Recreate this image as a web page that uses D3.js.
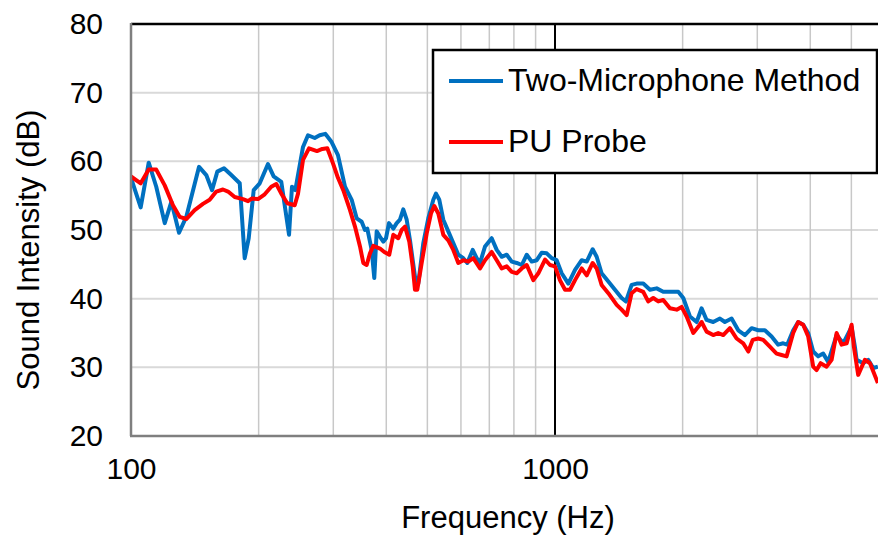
<!DOCTYPE html>
<html>
<head>
<meta charset="utf-8">
<script src="https://cdn.jsdelivr.net/npm/d3@7"></script>
<style>
  body { margin: 0; background: #fff; }
  svg { display: block; font-family: "Liberation Sans", Arial, sans-serif; }
</style>
</head>
<body>
<script>
// Two-Microphone Method (blue)
const blueFreq = [100, 105.4, 110.1, 114.7, 120.1, 124.5, 129.8, 135.0, 144.7, 150.5, 155.3, 159.8, 165.7, 172.4, 180.5, 185.4, 189.5, 194.7, 201.2, 210.4, 217.0, 226.2, 235.9, 239.7, 244.1, 254.5, 261.5, 271.2, 278.6, 287.2, 296.7, 307.7, 319.7, 331.5, 340.6, 350.0, 356.3, 360.8, 369.5, 374.8, 379.7, 386.6, 393.6, 399.4, 405.9, 415.5, 423.3, 430.9, 438.7, 446.9, 455.0, 467.5, 476.0, 489.1, 502.5, 516.4, 524.0, 533.5, 545.2, 560.2, 575.6, 591.5, 607.8, 621.1, 639.6, 653.6, 665.5, 683.8, 709.1, 728.7, 748.7, 769.4, 790.6, 812.3, 834.7, 857.7, 881.3, 905.6, 930.5, 956.1, 982.3, 1009, 1037, 1075, 1115, 1156, 1188, 1227, 1254, 1288, 1336, 1385, 1436, 1470, 1516, 1558, 1615, 1675, 1737, 1800, 1867, 1953, 2007, 2081, 2158, 2217, 2278, 2361, 2449, 2516, 2609, 2705, 2805, 2909, 3015, 3126, 3242, 3360, 3453, 3529, 3646, 3746, 3849, 3955, 4064, 4176, 4291, 4409, 4615, 4783, 5006, 5097, 5144, 5332, 5479, 5629, 5775];
const blueDb = [57.6, 53.3, 59.8, 56.3, 51.0, 54.1, 49.6, 51.9, 59.2, 58.0, 55.8, 58.5, 59.0, 58.0, 56.8, 45.9, 48.8, 55.8, 56.8, 59.6, 57.8, 57.0, 49.3, 56.3, 55.8, 62.1, 63.8, 63.4, 63.8, 64.0, 62.9, 60.9, 56.3, 54.4, 51.7, 51.2, 50.0, 50.2, 47.1, 43.0, 49.8, 49.0, 48.3, 48.8, 51.0, 50.2, 51.0, 51.5, 53.0, 51.5, 48.5, 43.2, 42.2, 48.1, 51.7, 54.4, 55.3, 54.4, 51.5, 49.8, 48.1, 46.4, 45.9, 45.2, 47.1, 45.9, 45.2, 47.6, 48.8, 47.1, 46.1, 46.4, 45.4, 45.2, 44.9, 46.4, 45.4, 45.6, 46.7, 46.6, 45.9, 45.6, 43.7, 42.2, 44.2, 45.6, 45.4, 47.2, 46.1, 43.7, 42.5, 41.3, 40.1, 39.6, 42.0, 42.2, 42.2, 41.3, 41.5, 41.0, 41.0, 41.0, 40.1, 37.4, 36.6, 38.6, 36.9, 36.6, 37.1, 36.6, 37.1, 35.4, 34.7, 35.7, 35.4, 35.4, 34.5, 33.3, 33.5, 33.3, 35.4, 36.6, 36.2, 35.0, 32.3, 31.6, 32.0, 30.8, 34.7, 33.5, 35.9, 33.0, 31.1, 30.6, 31.1, 29.9, 30.1];

// PU Probe (red)
const redFreq = [100, 105.4, 110.1, 114.7, 120.1, 125.6, 130.3, 135.0, 141.3, 147.8, 153.3, 158.9, 164.8, 169.4, 175.6, 183.7, 188.8, 192.9, 199.3, 206.7, 214.2, 220.1, 226.2, 233.7, 243.3, 247.7, 254.5, 262.9, 274.6, 282.6, 290.4, 299.5, 307.7, 316.7, 328.5, 337.5, 346.8, 353.1, 359.6, 366.1, 372.8, 386.6, 395.7, 406.6, 415.5, 427.0, 434.9, 442.8, 453.3, 461.7, 467.5, 473.4, 484.8, 498.2, 509.9, 519.2, 530.6, 545.2, 560.2, 575.6, 591.5, 607.8, 624.5, 641.7, 665.5, 683.8, 709.1, 728.7, 748.7, 769.4, 790.6, 812.3, 834.7, 857.7, 889.0, 913.5, 947.4, 973.2, 1000, 1027, 1056, 1085, 1115, 1156, 1188, 1227, 1254, 1288, 1336, 1398, 1436, 1476, 1516, 1558, 1615, 1659, 1705, 1752, 1800, 1867, 1936, 1989, 2044, 2119, 2177, 2217, 2278, 2361, 2426, 2493, 2585, 2681, 2779, 2857, 2926, 3015, 3098, 3212, 3331, 3423, 3517, 3646, 3746, 3849, 3955, 4064, 4140, 4231, 4371, 4491, 4615, 4742, 4875, 5006, 5069, 5189, 5381, 5533, 5775];
const redDb = [57.8, 56.8, 58.8, 58.8, 56.5, 53.6, 51.9, 51.6, 52.9, 53.8, 54.4, 55.6, 55.9, 55.6, 54.8, 54.5, 54.2, 54.6, 54.5, 55.2, 56.3, 56.7, 55.3, 53.9, 53.6, 55.3, 60.2, 61.9, 61.5, 61.8, 61.9, 59.7, 57.6, 55.8, 52.9, 50.5, 47.6, 45.2, 44.9, 46.6, 47.7, 47.3, 46.8, 46.4, 49.3, 48.8, 50.0, 50.5, 48.3, 44.7, 41.3, 41.3, 45.2, 49.5, 52.4, 53.5, 52.4, 49.3, 48.5, 47.1, 45.2, 45.6, 45.4, 45.9, 44.4, 45.6, 46.8, 45.6, 44.4, 44.7, 43.9, 43.7, 44.4, 44.9, 42.7, 43.7, 45.7, 44.9, 44.7, 42.7, 41.3, 41.3, 42.7, 44.4, 43.4, 45.2, 44.4, 42.0, 40.8, 39.1, 38.4, 37.6, 40.8, 41.4, 41.0, 39.6, 40.1, 39.6, 39.8, 38.6, 38.4, 38.8, 37.4, 35.0, 35.9, 36.6, 35.2, 34.7, 35.0, 34.7, 35.7, 34.2, 33.5, 32.3, 34.0, 34.2, 34.0, 33.0, 32.0, 31.8, 31.6, 35.0, 36.6, 36.2, 34.5, 30.1, 29.6, 30.6, 30.1, 31.1, 35.0, 33.3, 33.5, 36.2, 33.0, 28.9, 31.1, 30.6, 27.7];

const seriesNames = ["Two-Microphone Method", "PU Probe"];
const seriesColors = ["#0070C0", "#FF0000"];
const yTicks = [20, 30, 40, 50, 60, 70, 80];
const xTickLabels = [100, 1000];
const xGrid = [200, 300, 400, 500, 600, 700, 800, 900, 2000, 3000, 4000, 5000, 6000, 7000, 8000, 9000];

const width = 878, height = 536;
const plotLeft = 131, plotTop = 24, plotBottom = 436;

const svg = d3.select("body").append("svg")
    .attr("width", width)
    .attr("height", height);

const x = d3.scaleLog().domain([100, 10000]).range([plotLeft, plotLeft + 848]);
const y = d3.scaleLinear().domain([20, 80]).range([plotBottom, plotTop]);

// gridlines
svg.append("g")
    .selectAll("line")
    .data(yTicks.slice(1, -1))
    .enter()
    .append("line")
    .attr("x1", plotLeft).attr("x2", width)
    .attr("y1", d => y(d)).attr("y2", d => y(d))
    .attr("stroke", "#d9d9d9")
    .attr("stroke-width", 2);

svg.append("g")
    .selectAll("line")
    .data(xGrid)
    .enter()
    .append("line")
    .attr("x1", d => x(d)).attr("x2", d => x(d))
    .attr("y1", plotTop).attr("y2", plotBottom)
    .attr("stroke", "#c8c8c8")
    .attr("stroke-width", 1.5);

// decade line at 1000
svg.append("line")
    .attr("x1", x(1000)).attr("x2", x(1000))
    .attr("y1", plotTop).attr("y2", plotBottom)
    .attr("stroke", "#000")
    .attr("stroke-width", 2);

// top border
svg.append("line")
    .attr("x1", plotLeft).attr("x2", width)
    .attr("y1", plotTop).attr("y2", plotTop)
    .attr("stroke", "#000")
    .attr("stroke-width", 2.5);

// series
svg.append("clipPath").attr("id", "plot")
    .append("rect")
    .attr("x", plotLeft).attr("y", plotTop)
    .attr("width", width - plotLeft).attr("height", plotBottom - plotTop);

const line = d3.line()
    .x(d => x(d[0]))
    .y(d => y(d[1]));

const series = [
    d3.zip(blueFreq, blueDb),
    d3.zip(redFreq, redDb)
];

svg.append("g")
    .attr("clip-path", "url(#plot)")
    .selectAll("path")
    .data(series)
    .enter()
    .append("path")
    .attr("d", line)
    .attr("fill", "none")
    .attr("stroke", (d, i) => seriesColors[i])
    .attr("stroke-width", 4)
    .attr("stroke-linejoin", "round");

// axes
const xAxis = svg.append("g")
    .attr("transform", `translate(0,${plotBottom})`)
    .call(d3.axisBottom(x).tickValues(xTickLabels).tickFormat(d3.format("d")).tickSize(0).tickPadding(22));
xAxis.select(".domain").remove();
xAxis.selectAll("text").attr("font-size", 30).attr("fill", "#000").attr("font-family", "Liberation Sans, Arial, sans-serif");

const yAxis = svg.append("g")
    .attr("transform", `translate(${plotLeft},0)`)
    .call(d3.axisLeft(y).tickValues(yTicks).tickSize(0).tickPadding(28));
yAxis.select(".domain").remove();
yAxis.selectAll("text").attr("font-size", 30).attr("fill", "#000").attr("font-family", "Liberation Sans, Arial, sans-serif");

svg.append("line")
    .attr("x1", plotLeft).attr("x2", plotLeft)
    .attr("y1", plotTop - 1).attr("y2", plotBottom)
    .attr("stroke", "#7f7f7f")
    .attr("stroke-width", 2.5);
svg.append("line")
    .attr("x1", plotLeft - 1).attr("x2", width)
    .attr("y1", plotBottom).attr("y2", plotBottom)
    .attr("stroke", "#7f7f7f")
    .attr("stroke-width", 2.5);

// axis titles
svg.append("text")
    .attr("x", 508).attr("y", 528)
    .attr("text-anchor", "middle")
    .attr("font-size", 31)
    .text("Frequency (Hz)");

svg.append("text")
    .attr("transform", "translate(39,250) rotate(-90)")
    .attr("text-anchor", "middle")
    .attr("font-size", 31)
    .text("Sound Intensity (dB)");

// legend
const legend = svg.append("g");
legend.append("rect")
    .attr("x", 433).attr("y", 50)
    .attr("width", 444).attr("height", 123)
    .attr("fill", "#fff")
    .attr("stroke", "#000")
    .attr("stroke-width", 2.5);

const items = legend.selectAll("g.item")
    .data(seriesNames)
    .enter()
    .append("g")
    .attr("class", "item")
    .attr("transform", (d, i) => `translate(0,${i === 0 ? 81 : 142})`);

items.append("line")
    .attr("x1", 449).attr("x2", 503)
    .attr("stroke", (d, i) => seriesColors[i])
    .attr("stroke-width", 4);

items.append("text")
    .attr("x", 508)
    .attr("y", 10)
    .attr("font-size", 32)
    .text(d => d);
</script>
</body>
</html>
